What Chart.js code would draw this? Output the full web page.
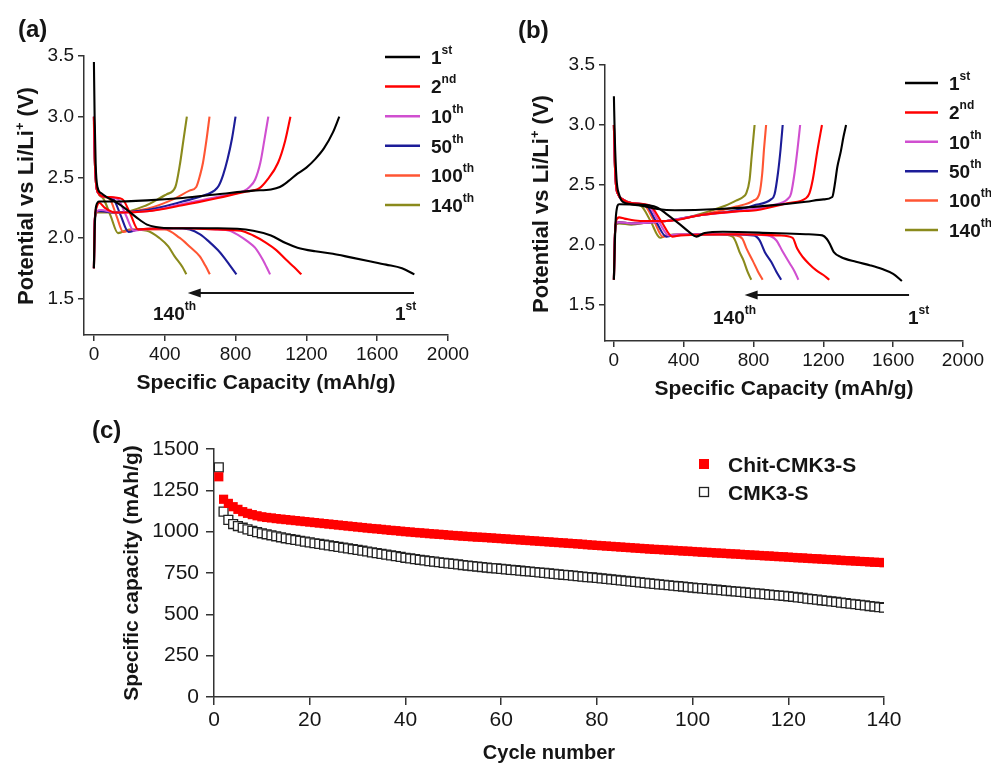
<!DOCTYPE html>
<html>
<head>
<meta charset="utf-8">
<script src="https://cdn.jsdelivr.net/npm/chart.js@4.4.0/dist/chart.umd.min.js"></script>
<style>
  body { margin: 0; background: #fff; width: 991px; height: 768px; position: relative; overflow: hidden; }
  canvas { position: absolute; }
</style>
</head>
<body>
<canvas id="chartA" width="490" height="400" style="left:0;top:0"></canvas>
<canvas id="chartB" width="501" height="400" style="left:490px;top:0"></canvas>
<canvas id="chartC" width="991" height="368" style="left:0;top:400px"></canvas>
<script>
// ---- data: panel (a), Chit-CMK3-S, [capacity mAh/g, potential V] ----
const aDis1 = [[0,3.45],[4,3.0],[10,2.6],[20,2.42],[40,2.37],[80,2.33],[120,2.30],[180,2.24],[240,2.17],[300,2.11],[350,2.09],[450,2.08],[700,2.08],[900,2.06],[1000,2.02],[1080,1.96],[1150,1.92],[1250,1.89],[1350,1.87],[1450,1.84],[1550,1.81],[1650,1.78],[1740,1.75],[1810,1.70]];
const aChg1 = [[0,1.75],[4,2.05],[12,2.26],[30,2.30],[100,2.30],[300,2.31],[500,2.33],[700,2.36],[900,2.39],[1000,2.40],[1050,2.42],[1100,2.47],[1150,2.53],[1200,2.58],[1250,2.65],[1300,2.74],[1350,2.87],[1386,3.0]];
const aDis2 = [[0,3.0],[5,2.65],[12,2.45],[25,2.37],[60,2.34],[160,2.32],[205,2.2],[250,2.07],[300,2.075],[500,2.08],[700,2.07],[830,2.06],[900,2.02],[973,1.96],[1030,1.9],[1086,1.82],[1130,1.76],[1172,1.70]];
const aChg2 = [[0,1.75],[5,2.15],[15,2.25],[30,2.29],[60,2.25],[120,2.21],[300,2.22],[500,2.27],[700,2.33],[850,2.38],[935,2.41],[980,2.48],[1040,2.62],[1080,2.8],[1110,3.0]];
const aDis10 = [[0,3.0],[5,2.65],[12,2.45],[25,2.37],[60,2.34],[135,2.32],[180,2.19],[225,2.06],[280,2.07],[500,2.08],[700,2.07],[766,2.06],[820,2.02],[870,1.97],[910,1.92],[954,1.82],[975,1.76],[995,1.70]];
const aChg10 = [[0,1.75],[5,2.15],[15,2.22],[40,2.23],[120,2.21],[300,2.22],[500,2.28],[700,2.34],[850,2.39],[879,2.42],[910,2.48],[940,2.62],[962,2.8],[985,3.0]];
const aDis50 = [[0,3.0],[5,2.65],[12,2.45],[25,2.37],[60,2.34],[110,2.32],[150,2.19],[195,2.05],[250,2.07],[450,2.08],[541,2.07],[600,2.03],[650,1.97],[700,1.9],[740,1.83],[770,1.77],[805,1.70]];
const aChg50 = [[0,1.75],[5,2.15],[15,2.22],[40,2.22],[120,2.21],[300,2.23],[500,2.30],[640,2.36],[680,2.39],[705,2.43],[730,2.52],[755,2.65],[780,2.82],[800,3.0]];
const aDis100 = [[0,3.0],[5,2.65],[12,2.45],[25,2.37],[50,2.34],[90,2.32],[128,2.18],[165,2.05],[220,2.07],[400,2.07],[485,2.0],[540,1.93],[597,1.85],[630,1.77],[655,1.70]];
const aChg100 = [[0,1.75],[5,2.15],[15,2.21],[40,2.22],[120,2.21],[300,2.24],[450,2.32],[540,2.39],[578,2.42],[600,2.52],[616,2.62],[635,2.8],[653,3.0]];
const aDis140 = [[0,2.95],[5,2.65],[12,2.45],[25,2.37],[55,2.32],[95,2.18],[136,2.04],[200,2.07],[300,2.06],[370,2.0],[420,1.93],[455,1.85],[500,1.76],[522,1.70]];
const aChg140 = [[0,1.75],[5,2.15],[15,2.21],[40,2.21],[150,2.21],[297,2.27],[350,2.31],[410,2.36],[460,2.42],[485,2.6],[505,2.8],[525,3.0]];

// ---- data: panel (b), CMK3-S ----
const bDis1 = [[0,3.24],[5,2.9],[15,2.55],[30,2.42],[50,2.36],[100,2.34],[200,2.33],[250,2.31],[300,2.26],[380,2.17],[430,2.11],[472,2.07],[520,2.10],[625,2.11],[900,2.10],[1100,2.09],[1194,2.08],[1220,2.05],[1240,2.0],[1260,1.94],[1300,1.90],[1387,1.86],[1470,1.83],[1537,1.80],[1600,1.76],[1650,1.70]];
const bChg1 = [[0,1.71],[5,2.0],[12,2.25],[30,2.34],[150,2.33],[250,2.30],[350,2.29],[600,2.30],[900,2.33],[1100,2.36],[1200,2.38],[1251,2.40],[1265,2.5],[1280,2.65],[1300,2.78],[1315,2.9],[1330,3.0]];
const bDis2 = [[0,3.0],[5,2.7],[12,2.5],[25,2.42],[50,2.38],[100,2.35],[205,2.33],[270,2.2],[335,2.07],[380,2.08],[700,2.09],[950,2.08],[1024,2.06],[1050,1.97],[1082,1.90],[1120,1.84],[1158,1.79],[1200,1.75],[1234,1.71]];
const bChg2 = [[0,1.71],[5,2.05],[12,2.2],[30,2.23],[60,2.22],[150,2.2],[300,2.2],[500,2.25],[700,2.28],[815,2.29],[1000,2.35],[1100,2.39],[1120,2.43],[1140,2.55],[1165,2.78],[1192,3.0]];
const bDis10 = [[0,3.0],[5,2.7],[12,2.5],[25,2.42],[50,2.38],[100,2.35],[195,2.33],[255,2.2],[315,2.08],[360,2.09],[700,2.09],[880,2.08],[930,2.04],[965,1.95],[1006,1.85],[1035,1.78],[1057,1.71]];
const bChg10 = [[0,1.71],[5,2.05],[12,2.18],[30,2.19],[100,2.18],[300,2.2],[500,2.25],[700,2.28],[900,2.33],[1000,2.39],[1015,2.43],[1035,2.6],[1052,2.8],[1067,3.0]];
const bDis50 = [[0,3.0],[5,2.7],[12,2.5],[25,2.42],[50,2.38],[100,2.35],[185,2.33],[240,2.2],[300,2.07],[340,2.08],[600,2.09],[800,2.08],[834,2.04],[865,1.94],[901,1.86],[930,1.78],[958,1.71]];
const bChg50 = [[0,1.71],[5,2.05],[12,2.18],[30,2.19],[100,2.18],[300,2.2],[500,2.25],[700,2.29],[800,2.33],[900,2.38],[920,2.42],[940,2.6],[955,2.8],[967,3.0]];
const bDis100 = [[0,3.0],[5,2.7],[12,2.5],[25,2.42],[50,2.38],[100,2.35],[175,2.33],[230,2.2],[280,2.07],[320,2.08],[500,2.09],[700,2.08],[737,2.05],[760,1.97],[795,1.87],[825,1.78],[852,1.71]];
const bChg100 = [[0,1.71],[5,2.05],[12,2.18],[30,2.19],[100,2.18],[300,2.2],[500,2.25],[700,2.32],[800,2.37],[834,2.43],[850,2.6],[860,2.8],[872,3.0]];
const bDis140 = [[0,3.0],[5,2.7],[12,2.5],[25,2.42],[50,2.38],[100,2.35],[160,2.32],[210,2.2],[265,2.06],[300,2.08],[400,2.09],[600,2.09],[680,2.07],[700,2.02],[720,1.94],[743,1.87],[765,1.78],[787,1.71]];
const bChg140 = [[0,1.71],[5,2.05],[12,2.17],[30,2.18],[100,2.17],[200,2.19],[300,2.2],[450,2.24],[625,2.32],[700,2.37],[740,2.40],[758,2.43],[777,2.54],[790,2.75],[806,3.0]];

const cycleNames = ['1st', '2nd', '10th', '50th', '100th', '140th'];
const capTicks = [0, 400, 800, 1200, 1600, 2000];
const voltTicks = [1.5, 2.0, 2.5, 3.0, 3.5];
// arrow: from capacity, to capacity, at potential
const aArrow = [1808, 530, 1.547];
const bArrow = [1691, 749, 1.583];

// ---- data: panel (c), specific capacity per cycle ----
const chitCapacity = [
  1332,1196,1171,1151,1135,1121,1111,1103,1096,1090,
  1086,1083,1079,1076,1073,1070,1067,1064,1061,1058,
  1055,1052,1049,1046,1043,1040,1037,1034,1031,1028,
  1025,1022,1019,1017,1014,1011,1008,1006,1003,1000,
  998,995,993,991,988,986,984,982,979,977,
  975,973,971,969,967,966,964,962,960,958,
  956,954,952,950,948,946,944,942,940,938,
  936,934,932,930,928,926,924,921,919,917,
  915,913,911,909,907,905,903,901,899,897,
  895,893,892,890,888,887,885,883,882,880,
  878,876,875,873,871,870,868,866,865,863,
  861,859,858,856,854,853,851,849,848,846,
  844,842,841,839,837,836,834,832,831,829,
  827,825,824,822,820,819,817,815,814,812
];
const cmkCapacity = [
  1389,1121,1071,1046,1034,1024,1014,1005,997,990,
  984,978,972,966,960,955,950,945,940,935,
  930,926,921,917,912,908,903,899,894,890,
  885,880,875,870,866,861,856,852,847,842,
  838,834,830,826,822,819,815,811,808,805,
  802,798,795,792,789,786,783,780,778,775,
  772,769,767,764,761,759,756,753,751,748,
  745,742,739,737,734,731,728,725,723,720,
  717,714,711,708,705,702,699,696,693,690,
  687,684,681,679,676,673,670,668,665,662,
  659,657,654,651,649,646,643,641,638,636,
  633,630,627,625,622,619,617,614,612,609,
  606,602,599,595,592,589,585,582,578,575,
  571,568,564,561,557,554,550,547,543,540
];
const cycleNumbers = chitCapacity.map((v, i) => i + 1);
const cycleTicks = [0, 20, 40, 60, 80, 100, 120, 140];
const capacityTicks = [0, 250, 500, 750, 1000, 1250, 1500];

const cycleColors = ['#000000', '#ff0000', '#d04fd0', '#1c1c98', '#ff5533', '#8a8a1c'];
const FONT = '"Liberation Sans", Arial, sans-serif';
const INK = '#151515';

function richText(ctx, parts, x, y, align) {
  let w = 0;
  parts.forEach(p => { ctx.font = 'bold ' + p[1] + 'px ' + FONT; w += ctx.measureText(p[0]).width; });
  let cx = align === 'center' ? x - w / 2 : x;
  parts.forEach(p => {
    ctx.font = 'bold ' + p[1] + 'px ' + FONT;
    ctx.fillText(p[0], cx, y - (p[2] || 0));
    cx += ctx.measureText(p[0]).width;
  });
}

function ordinal(name) {
  const m = name.match(/^(\d+)(\D+)$/);
  return [[m[1], 19, 0], [m[2], 12, 10]];
}

function axisStyle(ticks, fmt, size, tickLen, pad) {
  return {
    type: 'linear',
    grid: { drawOnChartArea: false, drawTicks: true, tickLength: tickLen, color: '#333', lineWidth: 1.5 },
    border: { display: true, color: '#333', width: 1.5 },
    ticks: { color: '#161616', font: { family: FONT, size: size }, padding: pad, callback: fmt, maxRotation: 0 },
    afterBuildTicks: s => { s.ticks = ticks.map(v => ({ value: v })); }
  };
}

function profileChart(id, pairs, arrow, d) {
  const datasets = [];
  pairs.forEach((pr, i) => {
    pr.forEach((curve, k) => {
      datasets.push({
        label: cycleNames[i] + (k === 0 ? ' discharge' : ' charge'),
        data: curve.map(p => ({ x: p[0], y: p[1] })),
        showLine: true,
        borderColor: cycleColors[i],
        borderWidth: 2.1,
        pointRadius: 0,
        borderJoinStyle: 'round',
        cubicInterpolationMode: 'monotone'
      });
    });
  });
  const xAxis = axisStyle(capTicks, v => String(v), 19, 6, 2);
  xAxis.min = d.xMin; xAxis.max = 2000;
  xAxis.afterFit = s => { s.height = 40; };
  const yAxis = axisStyle(voltTicks, v => Number(v).toFixed(1), 19, 6, 4);
  yAxis.min = 1.2; yAxis.max = 3.5;
  yAxis.afterFit = s => { s.width = 60; };

  new Chart(document.getElementById(id), {
    type: 'scatter',
    data: { datasets },
    options: {
      responsive: false,
      animation: false,
      layout: { padding: d.pad },
      scales: { x: xAxis, y: yAxis },
      plugins: { legend: { display: false }, tooltip: { enabled: false } }
    },
    plugins: [{
      id: 'decor' + id,
      afterDraw(chart) {
        const ctx = chart.ctx;
        ctx.save();
        ctx.fillStyle = INK;
        ctx.textAlign = 'left';
        ctx.textBaseline = 'alphabetic';
        richText(ctx, [[d.tag, 24, 0]], d.tagPos[0], d.tagPos[1] + 8.6, 'left');
        richText(ctx, [['Specific Capacity (mAh/g)', 21, 0]], d.xTitle[0], d.xTitle[1] + 7.5, 'center');
        ctx.save();
        ctx.translate(d.yTitle[0], d.yTitle[1]);
        ctx.rotate(-Math.PI / 2);
        richText(ctx, [['Potential vs Li/Li', 22, 0], ['+', 13, 9], [' (V)', 22, 0]], 0, 7.9, 'center');
        ctx.restore();
        cycleNames.forEach((name, i) => {
          const y = d.leg[1] + i * d.leg[3];
          ctx.strokeStyle = cycleColors[i];
          ctx.lineWidth = 2.5;
          ctx.beginPath();
          ctx.moveTo(d.leg[0], y);
          ctx.lineTo(d.leg[0] + d.leg[2], y);
          ctx.stroke();
          ctx.fillStyle = INK;
          richText(ctx, ordinal(name), d.leg[0] + d.leg[2] + 11, y + 6.8, 'left');
        });
        const xs = chart.scales.x, ys = chart.scales.y;
        const x1 = xs.getPixelForValue(arrow[0]);
        const x2 = xs.getPixelForValue(arrow[1]);
        const ya = ys.getPixelForValue(arrow[2]);
        ctx.strokeStyle = INK;
        ctx.lineWidth = 2;
        ctx.beginPath();
        ctx.moveTo(x1, ya);
        ctx.lineTo(x2 + 8, ya);
        ctx.stroke();
        ctx.beginPath();
        ctx.moveTo(x2, ya);
        ctx.lineTo(x2 + 13, ya - 4.5);
        ctx.lineTo(x2 + 13, ya + 4.5);
        ctx.closePath();
        ctx.fill();
        richText(ctx, ordinal(cycleNames[5]), d.lab140[0], d.lab140[1] + 6.8, 'left');
        richText(ctx, ordinal(cycleNames[0]), d.lab1[0], d.lab1[1] + 6.8, 'left');
        ctx.restore();
      }
    }]
  });
}

profileChart('chartA',
  [[aDis1, aChg1], [aDis2, aChg2], [aDis10, aChg10], [aDis50, aChg50], [aDis100, aChg100], [aDis140, aChg140]],
  aArrow,
  { xMin: -56, pad: { left: 24, right: 42, top: 56, bottom: 25 },
    tag: '(a)', tagPos: [18, 28], xTitle: [266, 381], yTitle: [25, 196],
    leg: [385, 57, 35, 29.6], lab140: [153, 313], lab1: [395, 313] });

profileChart('chartB',
  [[bDis1, bChg1], [bDis2, bChg2], [bDis10, bChg10], [bDis50, bChg50], [bDis100, bChg100], [bDis140, bChg140]],
  bArrow,
  { xMin: -51, pad: { left: 55, right: 28, top: 65, bottom: 19 },
    tag: '(b)', tagPos: [28, 29], xTitle: [294, 387], yTitle: [50, 204],
    leg: [415, 83, 33, 29.4], lab140: [223, 317], lab1: [418, 317] });

// ---- panel (c) ----
const cx = axisStyle(cycleTicks, v => String(v), 21, 8, 3);
cx.min = 0; cx.max = 140;
cx.afterFit = s => { s.height = 40; };
const cy = axisStyle(capacityTicks, v => String(v), 21, 8, 7);
cy.min = 0; cy.max = 1500;
cy.afterFit = s => { s.width = 70; };

new Chart(document.getElementById('chartC'), {
  type: 'scatter',
  data: {
    datasets: [
      {
        label: 'Chit-CMK3-S',
        data: cycleNumbers.map((n, i) => ({ x: n, y: chitCapacity[i] })),
        pointStyle: 'rect', pointRadius: 6.5,
        backgroundColor: '#ff0000', borderColor: '#ff0000', borderWidth: 0
      },
      {
        label: 'CMK3-S',
        data: cycleNumbers.map((n, i) => ({ x: n, y: cmkCapacity[i] })),
        pointStyle: 'rect', pointRadius: 6.3,
        backgroundColor: '#ffffff', borderColor: '#222', borderWidth: 1.3
      }
    ]
  },
  options: {
    responsive: false,
    animation: false,
    layout: { padding: { left: 144, right: 107, top: 49, bottom: 31 } },
    scales: { x: cx, y: cy },
    plugins: { legend: { display: false }, tooltip: { enabled: false } }
  },
  plugins: [{
    id: 'decorC',
    afterDraw(chart) {
      const ctx = chart.ctx;
      ctx.save();
      ctx.fillStyle = INK;
      ctx.textAlign = 'left';
      ctx.textBaseline = 'alphabetic';
      richText(ctx, [['(c)', 24, 0]], 92, 29 + 8.6, 'left');
      richText(ctx, [['Cycle number', 20, 0]], 549, 352 + 7.2, 'center');
      ctx.save();
      ctx.translate(130, 173);
      ctx.rotate(-Math.PI / 2);
      richText(ctx, [['Specific capacity (mAh/g)', 21, 0]], 0, 7.5, 'center');
      ctx.restore();
      const ds = chart.data.datasets;
      ctx.fillStyle = '#ff0000';
      ctx.fillRect(699, 59, 10, 10);
      ctx.fillStyle = '#fff';
      ctx.strokeStyle = '#222';
      ctx.lineWidth = 1.3;
      ctx.fillRect(699.5, 87.5, 9, 9);
      ctx.strokeRect(699.5, 87.5, 9, 9);
      ctx.fillStyle = INK;
      richText(ctx, [[ds[0].label, 21, 0]], 728, 64 + 7.5, 'left');
      richText(ctx, [[ds[1].label, 21, 0]], 728, 92 + 7.5, 'left');
      ctx.restore();
    }
  }]
});
</script>
</body>
</html>
